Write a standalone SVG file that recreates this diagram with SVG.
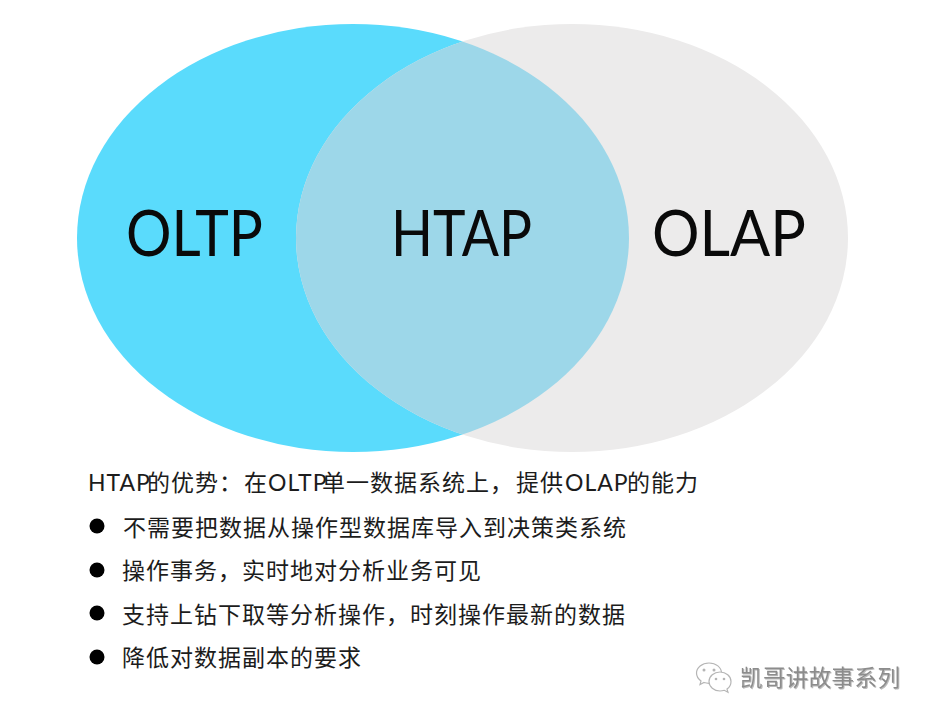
<svg xmlns="http://www.w3.org/2000/svg" width="930" height="720" viewBox="0 0 930 720">
<style>
.big{font-family:"Lato","Liberation Sans",sans-serif;font-size:63px;fill:#0a0a0a}
.t{font-family:"Lato","Noto Sans CJK SC",sans-serif;font-size:23px;fill:#1c1c1c;letter-spacing:1px}
.w{font-family:"Noto Sans CJK SC",sans-serif;font-size:22.5px;fill:#8c8c8c;letter-spacing:.4px;filter:drop-shadow(1px 1px 0 #bbb)}
.b{fill:#fff;stroke:#b5b5b5;stroke-width:1.2}
.d{fill:#b5b5b5}
.dot{fill:#000}
</style>
<rect width="930" height="720" fill="#fff"/>
<g id="oltp"><ellipse cx="353" cy="238" rx="276" ry="214" fill="#5adbfc"/><text class="big" x="126" y="256" textLength="137" lengthAdjust="spacingAndGlyphs">OLTP</text></g>
<g id="olap"><ellipse cx="572" cy="238" rx="276" ry="214" fill="#ecebeb"/><text class="big" x="652" y="256" textLength="154" lengthAdjust="spacingAndGlyphs">OLAP</text></g>
<g id="htap">
<clipPath id="c"><ellipse cx="353" cy="238" rx="276" ry="214"/></clipPath>
<ellipse cx="572" cy="238" rx="276" ry="214" fill="#9dd7e9" clip-path="url(#c)"/>
<text class="big" x="391" y="256" textLength="141" lengthAdjust="spacingAndGlyphs">HTAP</text></g>
<text class="t" y="491"><tspan x="88">HTAP</tspan><tspan x="147">的优势：</tspan><tspan x="244">在</tspan><tspan x="268">OLTP</tspan><tspan x="322">单一数据系统上，</tspan><tspan x="516">提供</tspan><tspan x="565">OLAP</tspan><tspan x="627">的能力</tspan></text>
<circle class="dot" cx="97" cy="526" r="7.500"/><text class="t" x="123" y="536">不需要把数据从操作型数据库导入到决策类系统</text>
<circle class="dot" cx="97" cy="570" r="7.500"/><text class="t" x="122" y="579">操作事务，实时地对分析业务可见</text>
<circle class="dot" cx="97" cy="613" r="7.500"/><text class="t" x="122" y="623">支持上钻下取等分析操作，时刻操作最新的数据</text>
<circle class="dot" cx="97" cy="657" r="7.500"/><text class="t" x="122" y="666">降低对数据副本的要求</text>
<g id="watermark">
<path class="b" d="M709 663c-7 0-12.500 4.500-12.500 10 0 3.300 1.800 6 4.500 8l-1 3.500 4-2c1.500.5 3 .8 5 .8 7 0 12.500-4.700 12.500-10.300S716 663 709 663z"/>
<path class="b" d="M720 672c-6 0-11 4.300-11 9.500s5 9.500 11 9.500c1.500 0 3-.3 4.300-.7l3.700 2-1-3.200c2.500-1.800 4-4.500 4-7.600 0-5.200-5-9.500-11-9.500z"/>
<circle class="d" cx="704" cy="670" r="1.500"/><circle class="d" cx="714" cy="670" r="1.500"/>
<circle class="d" cx="716" cy="679" r="1.300"/><circle class="d" cx="724" cy="679" r="1.300"/>
<text class="w" x="740" y="686">凯哥讲故事系列</text>
</g>
</svg>
